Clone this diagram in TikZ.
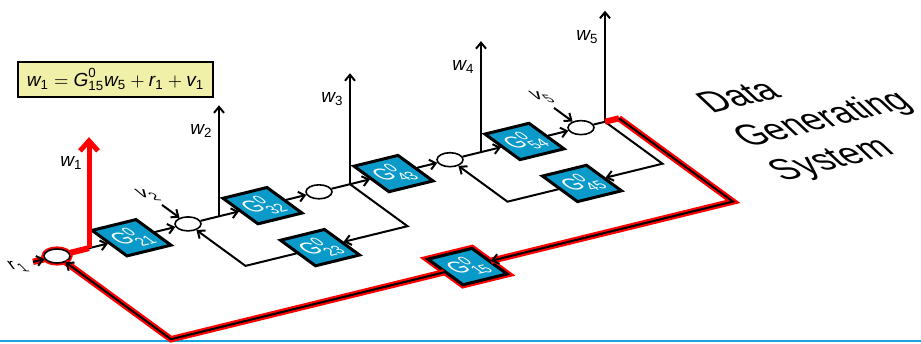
\documentclass[tikz,border=0pt]{standalone}
\usepackage{amsmath}
\usepackage{fontspec}
\setmainfont{Liberation Sans}
\usetikzlibrary{arrows.meta, shapes.geometric}
\definecolor{boxblue}{HTML}{0A9AC9}
\definecolor{eqyellow}{HTML}{F0F0A8}
\definecolor{linecyan}{HTML}{1AA3DC}

\begin{document}
\begin{tikzpicture}[
  x={(5pt,1.225pt)}, y={(5pt,-3.65pt)}, z={(0pt,5pt)},
  >={Straight Barb[length=3pt, width=5pt]},
  sumnode/.style={draw, line width=0.8pt, ellipse, fill=white,
    minimum width=13pt, minimum height=7pt, inner sep=0pt},
  gbox/.style={draw, line width=1.5pt, fill=boxblue, text=white,
    cm={1,0.245,-1,0.73,(0,0)}, minimum width=22pt, minimum height=17.5pt,
    inner sep=0pt, font=\fontsize{10}{10}\selectfont},
  sig/.style={line width=1pt},
  loopsig/.style={line width=1pt, preaction={draw=red, line width=3.2pt, arrows=-}},
  flatlabel/.style={cm={1,-0.05,-0.75,0.75,(0,0)}, inner sep=1pt,
    font=\fontsize{10.5}{11}\selectfont},
  wlabel/.style={anchor=east, xshift=-2pt, inner sep=1pt,
    font=\fontsize{9.5}{10}\selectfont},
]

\useasboundingbox (-28.5pt,-43.5pt) rectangle (432pt,128pt);

% Equation
\node[draw, line width=1.2pt, fill=eqyellow, minimum width=97.5pt,
      minimum height=17.5pt, inner sep=2pt, font=\fontsize{9.5}{11}\selectfont]
  (eq) at (29.25pt,88.25pt)
  {$\textit{w}_{\text{1}} = \textit{G}^{\text{0}}_{\text{15}}\textit{w}_{\text{5}}
    + \textit{r}_{\text{1}} + \textit{v}_{\text{1}}$};

% Slide rule
\draw[linecyan, line width=1pt] (-28.5pt,-42.5pt) -- (432pt,-42.5pt);

% =============================================
% Forward chain
% =============================================
\node[sumnode, preaction={draw=red, line width=2.6pt}] (s1) at (0,0) {};
\foreach \k/\su in {2/13.1, 3/26.2, 4/39.3, 5/52.4} {
  \node[sumnode] (s\k) at (\su,0) {};
}
\foreach \k/\jw in {1/3.2, 2/16.2, 3/29.3, 4/42.4, 5/54.8} {
  \coordinate (j\k) at (\jw,0);
  \coordinate (wt\k) at (\jw,0,11.1);
}
\foreach \lab/\bx in {21/7.45, 32/20.55, 43/33.65, 54/46.75} {
  \node[gbox] (g\lab) at (\bx,0) {G$^{\text{0}}_{\text{\lab}}$};
}

\draw[red, line width=3pt] (s1) -- (j1);
\foreach \k/\lab/\n in {1/21/2, 2/32/3, 3/43/4, 4/54/5} {
  \draw[sig, ->] (j\k) -- (g\lab.west);
  \draw[sig, ->] (g\lab.east) -- (s\n);
}
\foreach \k in {2,...,5} {
  \draw[sig] (s\k) -- (j\k);
}

% Outputs
\draw[red, line width=2.5pt, -{Straight Barb[length=5pt, width=9pt]}] (j1) -- (wt1);
\node[wlabel] (wl1) at (3.2,0,8.5) {$\textit{w}_{\text{1}}$};
\foreach \k/\jw in {2/16.2, 3/29.3, 4/42.4, 5/54.8} {
  \draw[sig, ->] (j\k) -- (wt\k);
  \node[wlabel] (wl\k) at (\jw,0,8.5) {$\textit{w}_{\text{\k}}$};
}

% Inputs
\coordinate (r1in) at (-2.4,0);
\draw[loopsig, ->] (r1in) -- (s1);
\node[flatlabel] (r1lab) at (-4.0,0.1) {$\textit{r}_{\text{1}}$};
\coordinate (v2in) at (13.1,-2.6);
\draw[sig, ->] (v2in) -- (s2);
\node[flatlabel] (v2lab) at (13.1,-4.0) {$\textit{v}_{\text{2}}$};
\coordinate (v5in) at (52.4,-2.7);
\draw[sig, ->] (v5in) -- (s5);
\node[flatlabel] (v5lab) at (52.6,-4.1) {$\textit{v}_{\text{5}}$};

% =============================================
% Feedback paths
% =============================================
\node[gbox] (g23) at (20.55,5.75) {G$^{\text{0}}_{\text{23}}$};
\coordinate (f3) at (29.3,5.75);
\coordinate (f2) at (13.1,5.75);
\draw[sig, ->] (j3) -- (f3) -- (g23.east);
\draw[sig, ->] (g23.west) -- (f2) -- (s2);

\node[gbox] (g45) at (46.75,5.75) {G$^{\text{0}}_{\text{45}}$};
\coordinate (f5) at (54.8,5.75);
\coordinate (f4) at (39.3,5.75);
\draw[sig, ->] (j5) -- (f5) -- (g45.east);
\draw[sig, ->] (g45.west) -- (f4) -- (s4);

% Outer loop
\node[gbox, preaction={draw=red, line width=3.6pt}] (g15) at (29.65,11.4)
  {G$^{\text{0}}_{\text{15}}$};
\coordinate (c1) at (56.2,0);
\coordinate (c2) at (56.2,11.4);
\coordinate (c3) at (0,11.4);
\draw[red, line width=3pt] (j5) -- (c1);
\draw[loopsig, ->] (c1) -- (c2) -- (g15.east);
\draw[loopsig, ->] (g15.west) -- (c3) -- (s1);

% Title
\node[cm={1,0.245,-0.85,0.8,(0,0)}, anchor=west, align=left, inner sep=0pt,
      font=\fontsize{16.8}{21}\selectfont] (dgs) at (63.0,5.4)
  {Data\\Generating\\System};

\end{tikzpicture}
\end{document}
